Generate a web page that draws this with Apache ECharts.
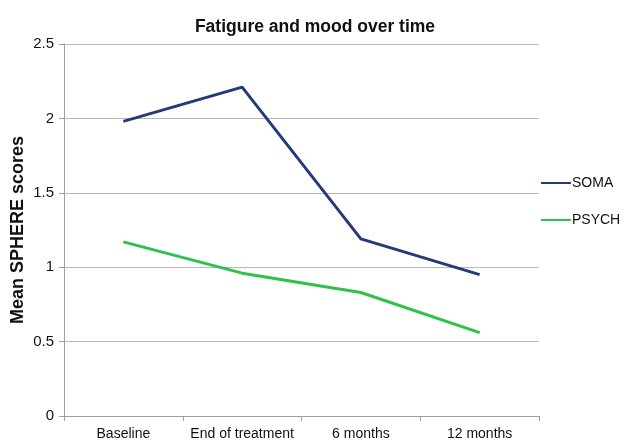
<!DOCTYPE html>
<html><head><meta charset="utf-8">
<script src="https://cdn.jsdelivr.net/npm/echarts@6/dist/echarts.min.js"></script>
<style>html,body{margin:0;padding:0;background:#fff}#c{width:625px;height:443px}</style>
</head><body><div id="c"></div>
<script>
const categories = ["Baseline", "End of treatment", "6 months", "12 months"];
const soma = [1.98, 2.21, 1.19, 0.95];
const psych = [1.17, 0.96, 0.83, 0.56];
const yTicks = [0, 0.5, 1, 1.5, 2, 2.5];

const chart = echarts.init(document.getElementById('c'), null, {renderer: 'canvas'});
chart.setOption({
  animation: false,
  backgroundColor: '#fff',
  textStyle: {fontFamily: 'Liberation Sans, Arial, sans-serif'},
  title: {
    text: 'Fatigure and mood over time',
    left: 310, top: 13, textAlign: 'center',
    textStyle: {fontSize: 17.5, fontWeight: 'bold', color: '#111'}
  },
  grid: {left: 64, right: 86, top: 44, bottom: 27, containLabel: false, outerBoundsMode: 'none'},
  legend: {
    orient: 'vertical', left: 536, top: 171, itemGap: 23,
    icon: 'rect', itemWidth: 30, itemHeight: 2,
    textStyle: {fontSize: 14, color: '#111', padding: [0, 0, 0, -4]},
    data: ['SOMA', 'PSYCH']
  },
  xAxis: {
    type: 'category', data: categories, boundaryGap: true,
    axisLine: {lineStyle: {color: '#a0a0a0', width: 1}},
    axisTick: {show: true, length: 5, lineStyle: {color: '#a0a0a0'}},
    axisLabel: {fontSize: 14, color: '#111', margin: 11, interval: 0}
  },
  yAxis: {
    type: 'value', min: 0, max: 2.5, interval: 0.5,
    name: 'Mean SPHERE scores', nameLocation: 'middle', nameGap: 37,
    nameMoveOverlap: false,
    nameTextStyle: {fontSize: 18, fontWeight: 'bold', color: '#111'},
    axisLine: {show: true, lineStyle: {color: '#a0a0a0'}},
    axisTick: {show: true, length: 5, lineStyle: {color: '#a0a0a0'}},
    axisLabel: {fontSize: 15, color: '#111', margin: 10,
      formatter: v => yTicks.includes(v) ? String(v) : ''},
    splitLine: {lineStyle: {color: '#b8b8b8', width: 1}}
  },
  series: [
    {name: 'SOMA', type: 'line', data: soma, showSymbol: false, symbol: 'none',
     lineStyle: {color: '#253a78', width: 3}, itemStyle: {color: '#253a78'}},
    {name: 'PSYCH', type: 'line', data: psych, showSymbol: false, symbol: 'none',
     lineStyle: {color: '#2fc14c', width: 3}, itemStyle: {color: '#2fc14c'}}
  ]
});
</script></body></html>
